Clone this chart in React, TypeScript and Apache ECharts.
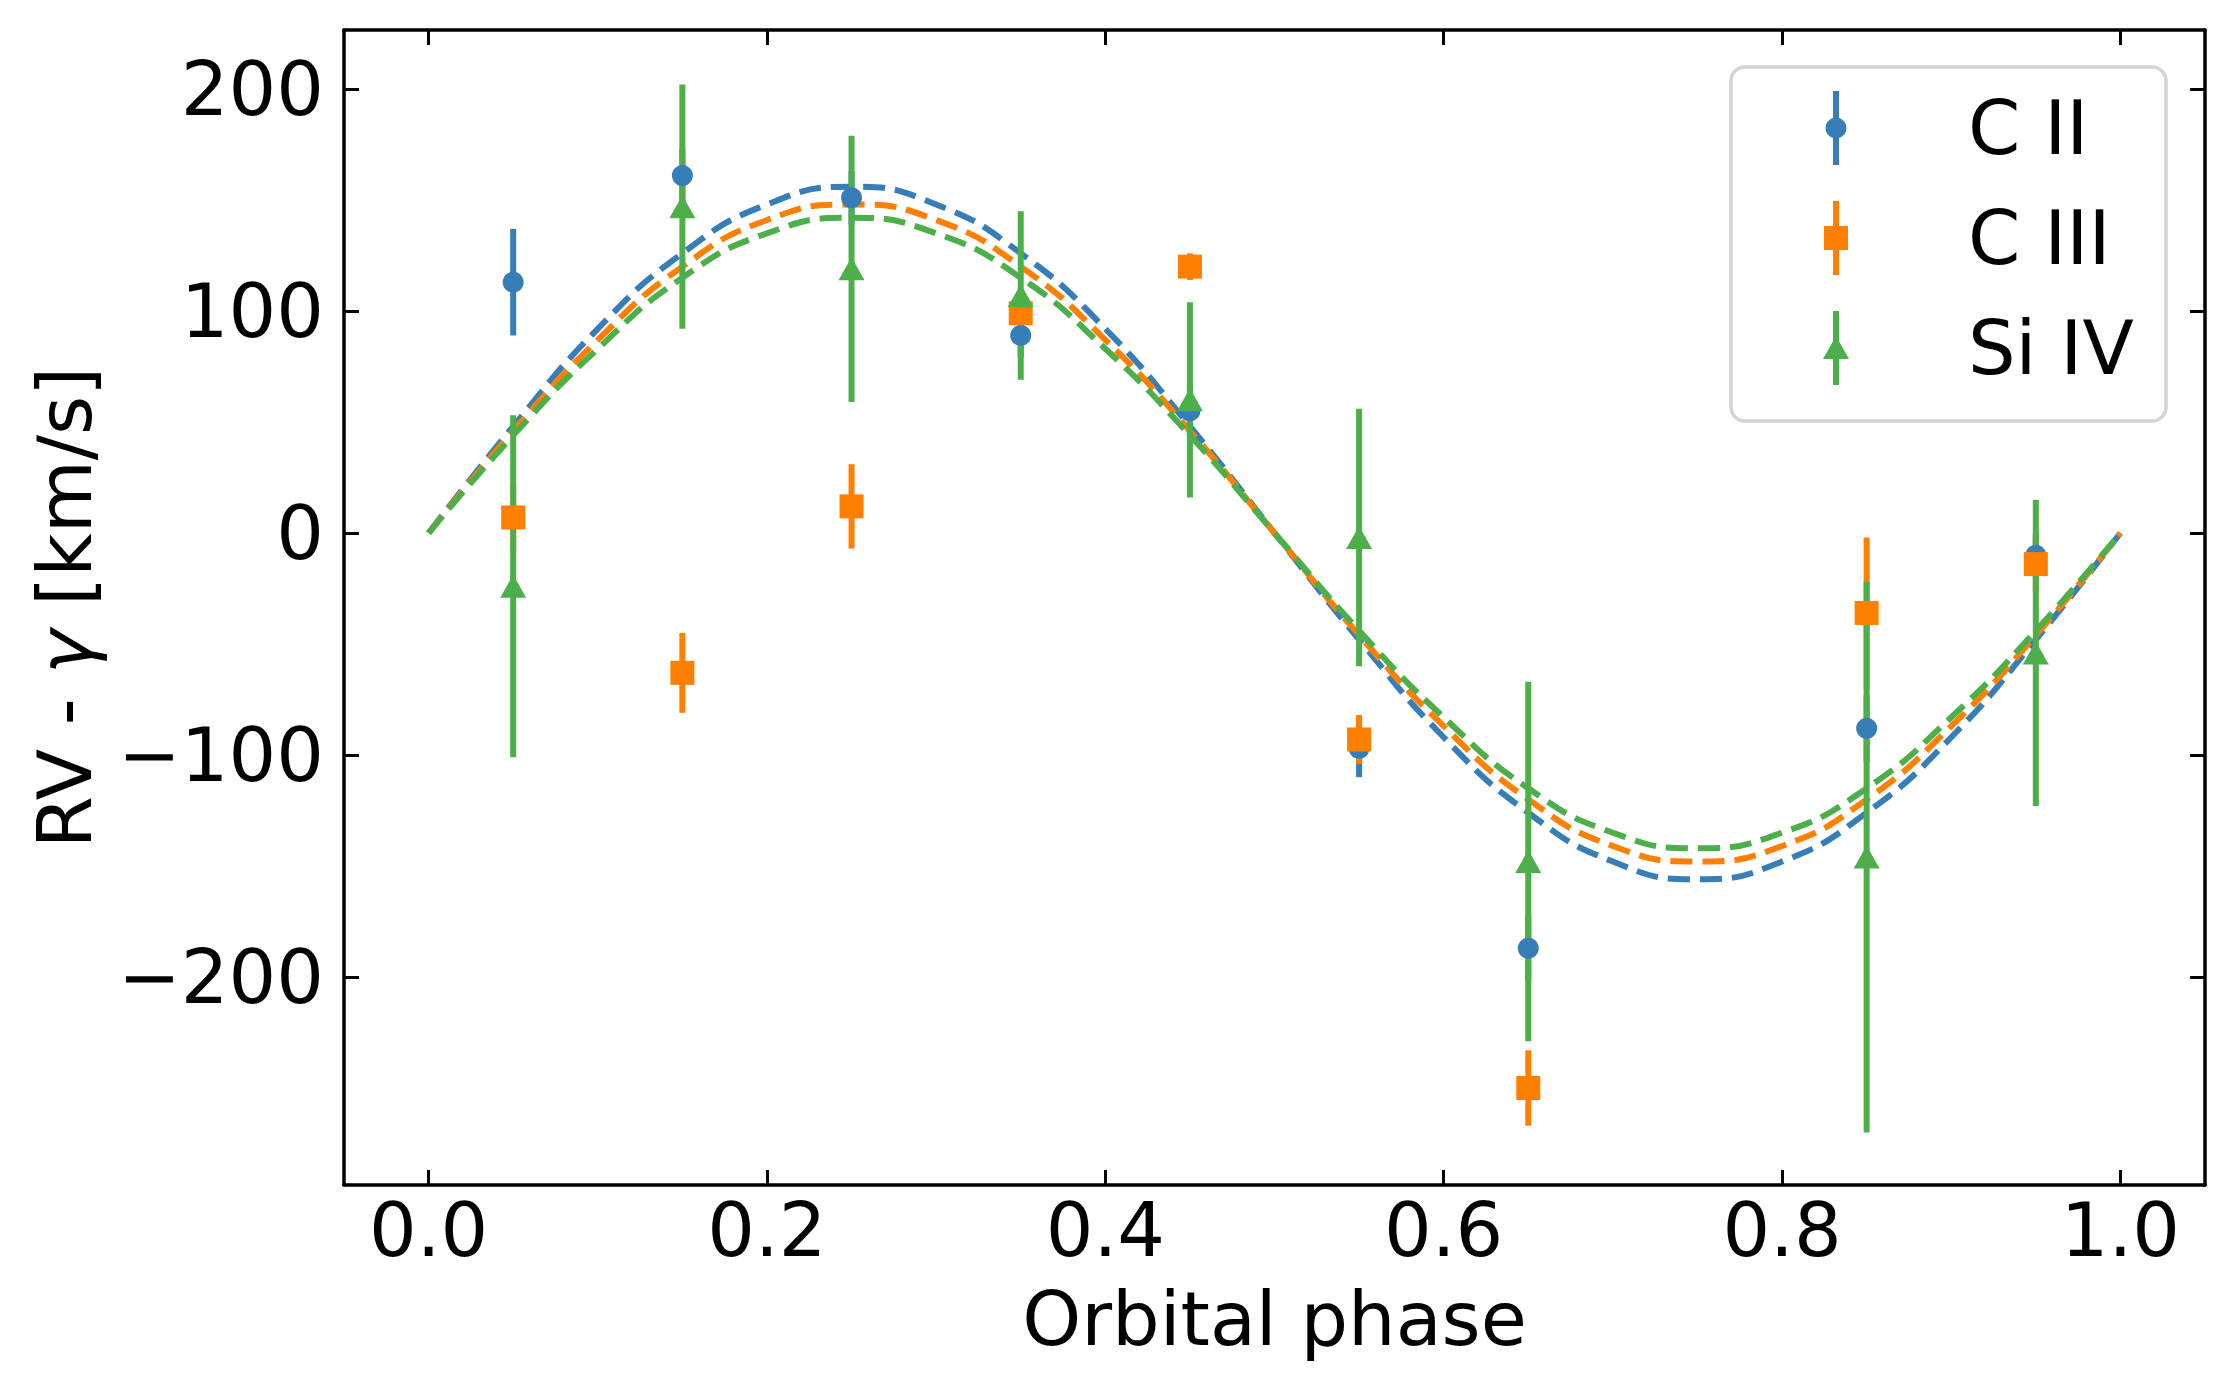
import React, { useEffect, useRef } from "react";
import * as echarts from "echarts";

// ---- data ----
const phases = [0.05, 0.15, 0.25, 0.35, 0.45, 0.55, 0.65, 0.85, 0.95];
const c2Rv = [113, 161, 151, 89, 55, -97, -187, -88, -10];
const c2Err = [24, 12, 12, 10, 12, 13, 15, 15, 10];
const c3Rv = [7, -63, 12, 99, 120, -93, -250, -36, -14];
const c3Err = [15, 18, 19, 10, 6, 11, 17, 34, 12];
const si4Rv = [-24, 147, 119, 107, 60, -2, -148, -146, -54];
const si4Err = [77, 55, 60, 38, 44, 58, 81, 124, 69];

// model curves (dashed), sampled every 0.05 in phase
const curvePhases = [0, 0.05, 0.1, 0.15, 0.2, 0.25, 0.3, 0.35, 0.4, 0.45, 0.5, 0.55, 0.6, 0.65, 0.7, 0.75, 0.8, 0.85, 0.9, 0.95, 1.0];
const c2Model = [0, 48, 92, 126, 148, 156, 148, 126, 92, 48, 0, -48, -92, -126, -148, -156, -148, -126, -92, -48, 0];
const c3Model = [0, 46, 87, 120, 141, 148, 141, 120, 87, 46, 0, -46, -87, -120, -141, -148, -141, -120, -87, -46, 0];
const si4Model = [0, 44, 83, 115, 135, 142, 135, 115, 83, 44, 0, -44, -83, -115, -135, -142, -135, -115, -83, -44, 0];

const xTicks = [0, 0.2, 0.4, 0.6, 0.8, 1.0];
const yTicks = [-200, -100, 0, 100, 200];
const seriesNames = ["C II", "C III", "Si IV"];

const BLUE = "#377eb8";
const ORANGE = "#ff7f00";
const GREEN = "#4daf4a";
const FONT = "DejaVu Sans";
const FS = 75;

function errBars(name: string, xs: number[], ys: number[], es: number[], color: string) {
  return {
    name: name + " err",
    type: "custom",
    coordinateSystem: "cartesian2d",
    xAxisIndex: 0,
    yAxisIndex: 0,
    z: 3,
    silent: true,
    encode: { x: 0, y: 1 },
    data: xs.map((x, i) => [x, ys[i], es[i]]),
    renderItem: (params: any, api: any) => {
      const x = api.value(0);
      const y = api.value(1);
      const e = api.value(2);
      const p1 = api.coord([x, y + e]);
      const p2 = api.coord([x, y - e]);
      return {
        type: "line",
        shape: { x1: p1[0], y1: p1[1], x2: p2[0], y2: p2[1] },
        style: { stroke: color, lineWidth: 6 },
      };
    },
  };
}

function markers(name: string, xs: number[], ys: number[], color: string, symbol: string, size: any) {
  return {
    name,
    type: "scatter",
    xAxisIndex: 0,
    yAxisIndex: 0,
    z: 4,
    symbol,
    symbolSize: size,
    itemStyle: { color, opacity: 1 },
    data: xs.map((x, i) => [x, ys[i]]),
  };
}

function model(ys: number[], color: string) {
  return {
    type: "line",
    xAxisIndex: 0,
    yAxisIndex: 0,
    z: 2,
    smooth: 0.5,
    symbol: "none",
    silent: true,
    lineStyle: { color, width: 6, type: [22, 10] },
    data: curvePhases.map((x, i) => [x, ys[i]]),
  };
}

const yFmt = (v: number) => (v < 0 ? "\u2212" + Math.abs(v) : String(v));

export default function App() {
  const ref = useRef<HTMLDivElement>(null);
  useEffect(() => {
    if (!ref.current) return;
    const chart = echarts.init(ref.current, null, { renderer: "svg" });

    const axisCommon = {
      axisLine: { show: true, onZero: false, lineStyle: { color: "#000", width: 3.5 } },
      axisTick: { show: true, inside: true, length: 15, lineStyle: { color: "#000", width: 3 } },
      splitLine: { show: false },
    };

    const legendX = 1836;
    const legendY0 = 128;
    const legendDy = 110;
    const legendColors = [BLUE, ORANGE, GREEN];
    const legendGraphics: any[] = [
      {
        type: "rect",
        shape: { x: 1731, y: 67, width: 435, height: 354, r: 14 },
        style: { fill: "rgba(255,255,255,0.8)", stroke: "#d4d4d4", lineWidth: 3.5 },
        z: 10,
      },
    ];
    seriesNames.forEach((nm, i) => {
      const yc = legendY0 + legendDy * i;
      const c = legendColors[i];
      legendGraphics.push({
        type: "line",
        shape: { x1: legendX, y1: yc - 37, x2: legendX, y2: yc + 37 },
        style: { stroke: c, lineWidth: 6 },
        z: 11,
      });
      if (i === 0) {
        legendGraphics.push({ type: "circle", shape: { cx: legendX, cy: yc, r: 10.5 }, style: { fill: c }, z: 12 });
      } else if (i === 1) {
        legendGraphics.push({ type: "rect", shape: { x: legendX - 12, y: yc - 12, width: 24, height: 24 }, style: { fill: c }, z: 12 });
      } else {
        legendGraphics.push({
          type: "polygon",
          shape: { points: [[legendX, yc - 12], [legendX - 13, yc + 11], [legendX + 13, yc + 11]] },
          style: { fill: c },
          z: 12,
        });
      }
      legendGraphics.push({
        type: "text",
        x: 1968,
        y: yc,
        style: { text: nm, font: `${FS}px "${FONT}"`, fill: "#000", verticalAlign: "middle", align: "left" },
        z: 12,
      });
    });

    chart.setOption({
      animation: false,
      backgroundColor: "#ffffff",
      grid: { left: 344, right: 29, top: 30, bottom: 207, containLabel: false },
      xAxis: [
        {
          type: "value",
          position: "bottom",
          min: -0.05,
          max: 1.05,
          name: "Orbital phase",
          nameLocation: "middle",
          nameGap: 96,
          nameTextStyle: { fontFamily: FONT, fontSize: FS, color: "#000" },
          ...axisCommon,
          axisTick: { ...axisCommon.axisTick, customValues: xTicks },
          axisLabel: {
            show: true,
            customValues: xTicks,
            margin: 7,
            fontFamily: FONT,
            fontSize: FS,
            color: "#000",
            formatter: (v: number) => v.toFixed(1),
          },
        },
        {
          type: "value",
          position: "top",
          min: -0.05,
          max: 1.05,
          ...axisCommon,
          axisTick: { ...axisCommon.axisTick, customValues: xTicks },
          axisLabel: { show: false },
        },
      ],
      yAxis: [
        {
          type: "value",
          position: "left",
          min: -293.7,
          max: 226.6,
          name: "RV - {i|\u03b3} [km/s]",
          nameLocation: "middle",
          nameGap: 242,
          nameRotate: 90,
          nameTextStyle: {
            fontFamily: FONT,
            fontSize: FS,
            color: "#000",
            rich: { i: { fontFamily: FONT, fontSize: FS, fontStyle: "italic", color: "#000" } },
          },
          ...axisCommon,
          axisTick: { ...axisCommon.axisTick, customValues: yTicks },
          axisLabel: {
            show: true,
            customValues: yTicks,
            margin: 20,
            fontFamily: FONT,
            fontSize: FS,
            color: "#000",
            formatter: yFmt,
          },
        },
        {
          type: "value",
          position: "right",
          min: -293.7,
          max: 226.6,
          ...axisCommon,
          axisTick: { ...axisCommon.axisTick, customValues: yTicks },
          axisLabel: { show: false },
        },
      ],
      series: [
        model(c2Model, BLUE),
        model(c3Model, ORANGE),
        model(si4Model, GREEN),
        errBars(seriesNames[0], phases, c2Rv, c2Err, BLUE),
        errBars(seriesNames[1], phases, c3Rv, c3Err, ORANGE),
        errBars(seriesNames[2], phases, si4Rv, si4Err, GREEN),
        markers(seriesNames[0], phases, c2Rv, BLUE, "circle", 21),
        markers(seriesNames[1], phases, c3Rv, ORANGE, "rect", 24),
        markers(seriesNames[2], phases, si4Rv, GREEN, "triangle", [26, 23]),
      ],
      graphic: legendGraphics,
    });
    return () => chart.dispose();
  }, []);
  return (
    <div
      ref={ref}
      style={{ position: "fixed", left: 0, top: 0, width: 2234, height: 1392, background: "#fff" }}
    />
  );
}
